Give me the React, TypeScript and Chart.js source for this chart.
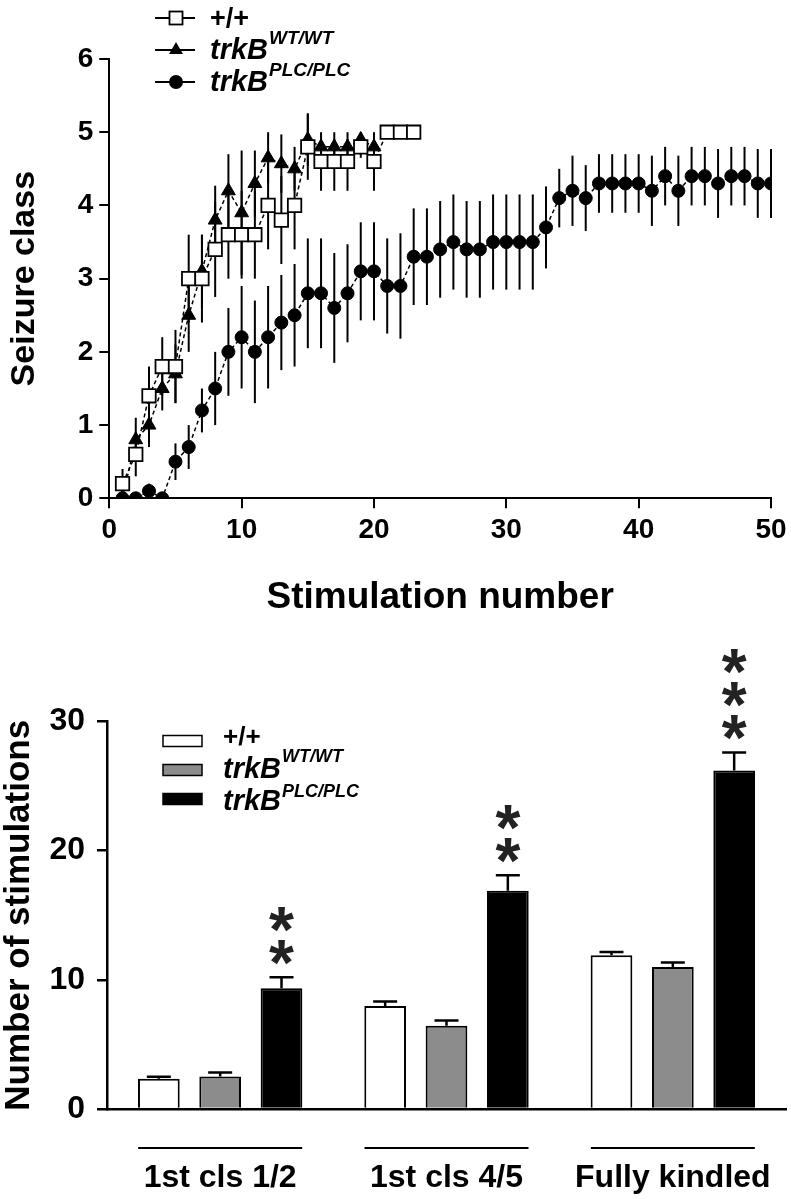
import React, { useEffect, useRef } from 'react';
import { Chart, registerables } from 'chart.js';

Chart.register(...registerables);

// ---------- Top panel data (seizure class vs stimulation number) ----------
const stimulation = [
  1, 2, 3, 4, 5, 6, 7, 8, 9, 10, 11, 12, 13, 14, 15, 16, 17, 18, 19, 20, 21, 22, 23, 24, 25,
  26, 27, 28, 29, 30, 31, 32, 33, 34, 35, 36, 37, 38, 39, 40, 41, 42, 43, 44, 45, 46, 47, 48, 49, 50,
];
const wildTypeMean = [
  0.2, 0.6, 1.4, 1.8, 1.8, 3.0, 3.0, 3.4, 3.6, 3.6, 3.6, 4.0, 3.8, 4.0, 4.8, 4.6, 4.6, 4.6, 4.8, 4.6, 5.0, 5.0, 5.0,
];
const wildTypeSem = [
  0.2, 0.3, 0.4, 0.4, 0.5, 0.6, 0.6, 0.65, 0.6, 0.6, 0.6, 0.6, 0.6, 0.6, 0.45, 0.4, 0.4, 0.4, 0.15, 0.4, 0, 0, 0,
];
const trkBWTMean = [
  0.0, 0.8, 1.0, 1.5, 1.7, 2.5, 3.1, 3.8, 4.2, 3.9, 4.3, 4.65, 4.57, 4.5, 4.9, 4.8, 4.8, 4.8, 4.9, 4.8,
];
const trkBWTSem = [
  0, 0.3, 0.3, 0.3, 0.4, 0.5, 0.5, 0.47, 0.5, 0.85, 0.45, 0.35, 0.4, 0.3, 0.36, 0.1, 0.1, 0.1, 0.1, 0.1,
];
const trkBPLCMean = [
  0, 0, 0.1, 0, 0.5, 0.7, 1.2, 1.5, 2.0, 2.2, 2.0, 2.2, 2.4, 2.5, 2.8, 2.8, 2.6, 2.8, 3.1, 3.1, 2.9, 2.9, 3.3, 3.3, 3.4,
  3.5, 3.4, 3.4, 3.5, 3.5, 3.5, 3.5, 3.7, 4.1, 4.2, 4.1, 4.3, 4.3, 4.3, 4.3, 4.2, 4.4, 4.2, 4.4, 4.4, 4.3, 4.4, 4.4, 4.3, 4.3,
];
const trkBPLCSem = [
  0, 0, 0.1, 0, 0.25, 0.3, 0.3, 0.5, 0.6, 0.7, 0.7, 0.7, 0.65, 0.7, 0.75, 0.75, 0.75, 0.67, 0.67, 0.67, 0.65, 0.72, 0.66, 0.66, 0.66,
  0.65, 0.66, 0.66, 0.65, 0.65, 0.65, 0.65, 0.56, 0.4, 0.48, 0.45, 0.4, 0.4, 0.4, 0.4, 0.48, 0.4, 0.48, 0.4, 0.4, 0.47, 0.4, 0.4, 0.47, 0.47,
];
const topXTicks = [0, 10, 20, 30, 40, 50];
const topYTicks = [0, 1, 2, 3, 4, 5, 6];

// ---------- Bottom panel data (number of stimulations) ----------
const barCategories = ['1st cls 1/2', '1st cls 4/5', 'Fully kindled'];
const barWildType = [2.35, 7.97, 11.9];
const barWildTypeSem = [0.15, 0.35, 0.25];
const barTrkBWT = [2.52, 6.45, 11.0];
const barTrkBWTSem = [0.3, 0.4, 0.35];
const barTrkBPLC = [9.35, 16.9, 26.2];
const barTrkBPLCSem = [0.85, 1.2, 1.4];
const significanceStars = [2, 2, 3];
const barYTicks = [0, 10, 20, 30];

const FONT = '"Liberation Sans", Arial, Helvetica, sans-serif';

function drawGenotype(
  ctx: CanvasRenderingContext2D,
  x: number,
  baseline: number,
  main: string,
  sup: string,
  mainSize: number,
  supSize: number,
  rise: number,
) {
  ctx.font = `italic bold ${mainSize}px ${FONT}`;
  ctx.textAlign = 'left';
  ctx.textBaseline = 'alphabetic';
  ctx.fillText(main, x, baseline);
  const w = ctx.measureText(main).width;
  if (sup) {
    ctx.font = `italic bold ${supSize}px ${FONT}`;
    ctx.fillText(sup, x + w + 1, baseline - rise);
  }
}

function noScalePadding(s: any) {
  s.paddingLeft = 0;
  s.paddingRight = 0;
  s.paddingTop = 0;
  s.paddingBottom = 0;
}

const lineErrorBars = {
  id: 'lineErrorBars',
  beforeDatasetsDraw(chart: any) {
    const { ctx, scales } = chart;
    const x = scales.x;
    const y = scales.y;
    ctx.save();
    ctx.strokeStyle = '#000';
    ctx.lineWidth = 2;
    chart.data.datasets.forEach((ds: any) => {
      const errs: number[] = ds.errors;
      if (!errs) return;
      ds.data.forEach((p: any, i: number) => {
        const e = errs[i];
        if (!e) return;
        const px = x.getPixelForValue(p.x);
        ctx.beginPath();
        ctx.moveTo(px, y.getPixelForValue(Math.max(0, p.y - e)));
        ctx.lineTo(px, y.getPixelForValue(p.y + e));
        ctx.stroke();
      });
    });
    ctx.restore();
  },
};

const topLegend = {
  id: 'topLegend',
  afterDraw(chart: any) {
    const ctx: CanvasRenderingContext2D = chart.ctx;
    ctx.save();
    ctx.fillStyle = '#000';
    ctx.strokeStyle = '#000';
    const rows = [18, 50, 82];
    const cx = 176;
    rows.forEach((ry) => {
      ctx.lineWidth = 2;
      ctx.beginPath();
      ctx.moveTo(155, ry);
      ctx.lineTo(195, ry);
      ctx.stroke();
    });
    // square
    ctx.fillStyle = '#fff';
    ctx.lineWidth = 1.8;
    ctx.fillRect(cx - 6.5, rows[0] - 6.5, 13, 13);
    ctx.strokeRect(cx - 6.5, rows[0] - 6.5, 13, 13);
    ctx.fillStyle = '#000';
    // triangle
    const r = 8;
    ctx.beginPath();
    ctx.moveTo(cx, rows[1] - r);
    ctx.lineTo(cx + r * Math.sin((2 * Math.PI) / 3), rows[1] + r / 2);
    ctx.lineTo(cx - r * Math.sin((2 * Math.PI) / 3), rows[1] + r / 2);
    ctx.closePath();
    ctx.fill();
    // circle
    ctx.beginPath();
    ctx.arc(cx, rows[2], 7, 0, Math.PI * 2);
    ctx.fill();

    ctx.font = `bold 27px ${FONT}`;
    ctx.textAlign = 'left';
    ctx.textBaseline = 'alphabetic';
    ctx.fillText('+/+', 210, rows[0] + 9);
    drawGenotype(ctx, 210, rows[1] + 9, 'trkB', 'WT/WT', 29, 19, 15);
    drawGenotype(ctx, 210, rows[2] + 9, 'trkB', 'PLC/PLC', 29, 19, 15);
    ctx.restore();
  },
};

const barDecorations = {
  id: 'barDecorations',
  afterDatasetsDraw(chart: any) {
    const { ctx, scales } = chart;
    const x = scales.x;
    const y = scales.y;
    ctx.save();
    ctx.strokeStyle = '#000';
    ctx.fillStyle = '#222';
    chart.data.datasets.forEach((ds: any, di: number) => {
      const meta = chart.getDatasetMeta(di);
      meta.data.forEach((bar: any, i: number) => {
        const v = ds.data[i];
        const e = ds.errors[i];
        const top = y.getPixelForValue(v);
        const cap = y.getPixelForValue(v + e);
        ctx.lineWidth = 2.5;
        ctx.beginPath();
        ctx.moveTo(bar.x, top);
        ctx.lineTo(bar.x, cap);
        ctx.moveTo(bar.x - 12, cap);
        ctx.lineTo(bar.x + 12, cap);
        ctx.stroke();
        if (ds.stars) {
          ctx.font = `bold 64px ${FONT}`;
          ctx.textAlign = 'center';
          ctx.textBaseline = 'alphabetic';
          const m = ctx.measureText('*');
          const mid = (m.actualBoundingBoxAscent - m.actualBoundingBoxDescent) / 2;
          for (let k = 0; k < ds.stars[i]; k++) {
            const cy = cap - 25 - k * 33;
            ctx.fillText('*', bar.x, cy + mid);
          }
        }
      });
    });
    // group underlines
    ctx.lineWidth = 2;
    ctx.strokeStyle = '#000';
    barCategories.forEach((_, i) => {
      const cx = x.getPixelForValue(i);
      ctx.beginPath();
      ctx.moveTo(cx - 82, 508);
      ctx.lineTo(cx + 82, 508);
      ctx.stroke();
    });
    ctx.restore();
  },
  afterDraw(chart: any) {
    const ctx: CanvasRenderingContext2D = chart.ctx;
    ctx.save();
    const rows = [101, 130, 159];
    const fills = ['#ffffff', '#8c8c8c', '#000000'];
    rows.forEach((ry, i) => {
      ctx.fillStyle = fills[i];
      ctx.fillRect(163, ry - 5.5, 39, 11);
      ctx.strokeStyle = '#000';
      ctx.lineWidth = 1.5;
      ctx.strokeRect(163, ry - 5.5, 39, 11);
    });
    ctx.fillStyle = '#000';
    ctx.font = `bold 26px ${FONT}`;
    ctx.textAlign = 'left';
    ctx.textBaseline = 'alphabetic';
    ctx.fillText('+/+', 223, 105);
    drawGenotype(ctx, 223, 137.5, 'trkB', 'WT/WT', 29, 18, 16);
    drawGenotype(ctx, 223, 169.5, 'trkB', 'PLC/PLC', 29, 18, 13);
    ctx.restore();
  },
};

function TopChart() {
  const ref = useRef<HTMLCanvasElement>(null);
  useEffect(() => {
    if (!ref.current) return;
    const tickFont = { family: FONT, size: 28, weight: 'bold' as const, lineHeight: 1 };
    const chart = new Chart(ref.current, {
      type: 'line',
      data: {
        datasets: [
          {
            label: 'trkB PLC/PLC',
            data: trkBPLCMean.map((v, i) => ({ x: stimulation[i], y: v })),
            errors: trkBPLCSem,
            order: 0,
            borderColor: '#000',
            borderWidth: 1.5,
            borderDash: [4, 3],
            pointStyle: 'circle',
            pointRadius: 6.5,
            pointBackgroundColor: '#000',
            pointBorderColor: '#000',
            pointBorderWidth: 1,
            tension: 0,
          } as any,
          {
            label: '+/+',
            data: wildTypeMean.map((v, i) => ({ x: stimulation[i], y: v })),
            errors: wildTypeSem,
            order: 1,
            borderColor: '#000',
            borderWidth: 1.5,
            borderDash: [4, 3],
            pointStyle: 'rect',
            pointRadius: 9.5,
            pointBackgroundColor: '#fff',
            pointBorderColor: '#000',
            pointBorderWidth: 1.8,
            tension: 0,
          } as any,
          {
            label: 'trkB WT/WT',
            data: trkBWTMean.map((v, i) => ({ x: stimulation[i], y: v })),
            errors: trkBWTSem,
            order: 2,
            borderColor: '#000',
            borderWidth: 1.5,
            borderDash: [4, 3],
            pointStyle: 'triangle',
            pointRadius: 8,
            pointBackgroundColor: '#000',
            pointBorderColor: '#000',
            pointBorderWidth: 1,
            tension: 0,
          } as any,
        ],
      },
      options: {
        responsive: false,
        animation: false,
        events: [],
        layout: { padding: { top: 59, right: 20, left: 0, bottom: 0 } },
        plugins: { legend: { display: false }, tooltip: { enabled: false } },
        scales: {
          x: {
            type: 'linear',
            min: 0,
            max: 50,
            afterBuildTicks: (s: any) => {
              s.ticks = topXTicks.map((v) => ({ value: v }));
            },
            afterFit: (s: any) => {
              s.height = 141.7;
              noScalePadding(s);
            },
            ticks: { font: tickFont, color: '#000', padding: 8, maxRotation: 0 },
            grid: { drawOnChartArea: false, drawTicks: true, tickLength: 10, color: '#000', lineWidth: 2 },
            border: { display: true, color: '#000', width: 2 },
            title: {
              display: true,
              text: 'Stimulation number',
              color: '#000',
              font: { family: FONT, size: 37, weight: 'bold', lineHeight: 1 },
              padding: { top: 0, bottom: 24 },
            },
          },
          y: {
            type: 'linear',
            min: 0,
            max: 6,
            afterBuildTicks: (s: any) => {
              s.ticks = topYTicks.map((v) => ({ value: v }));
            },
            afterFit: (s: any) => {
              s.width = 109.3;
              noScalePadding(s);
            },
            ticks: { font: tickFont, color: '#000', padding: 6 },
            grid: { drawOnChartArea: false, drawTicks: true, tickLength: 10, color: '#000', lineWidth: 2 },
            border: { display: true, color: '#000', width: 2 },
            title: {
              display: true,
              text: 'Seizure class',
              color: '#000',
              font: { family: FONT, size: 34, weight: 'bold', lineHeight: 1 },
              padding: { top: 8, bottom: 0 },
            },
          },
        },
      },
      plugins: [lineErrorBars, topLegend],
    } as any);
    return () => chart.destroy();
  }, []);
  return (
    <canvas
      ref={ref}
      width={791}
      height={640}
      style={{ position: 'absolute', left: 0, top: 0, width: 791, height: 640, display: 'block' }}
    />
  );
}

function BottomChart() {
  const ref = useRef<HTMLCanvasElement>(null);
  useEffect(() => {
    if (!ref.current) return;
    const chart = new Chart(ref.current, {
      type: 'bar',
      data: {
        labels: barCategories,
        datasets: [
          {
            label: '+/+',
            data: barWildType,
            errors: barWildTypeSem,
            backgroundColor: '#ffffff',
            borderColor: '#000',
            borderWidth: 2,
          } as any,
          {
            label: 'trkB WT/WT',
            data: barTrkBWT,
            errors: barTrkBWTSem,
            backgroundColor: '#8c8c8c',
            borderColor: '#000',
            borderWidth: 2,
          } as any,
          {
            label: 'trkB PLC/PLC',
            data: barTrkBPLC,
            errors: barTrkBPLCSem,
            stars: significanceStars,
            backgroundColor: '#000000',
            borderColor: '#000',
            borderWidth: 2,
          } as any,
        ],
      },
      options: {
        responsive: false,
        animation: false,
        events: [],
        layout: { padding: { top: 81.5, right: 5, left: 0, bottom: 0 } },
        datasets: { bar: { categoryPercentage: 0.813, barPercentage: 0.68 } },
        plugins: { legend: { display: false }, tooltip: { enabled: false } },
        scales: {
          x: {
            afterFit: (s: any) => {
              s.height = 90;
              noScalePadding(s);
            },
            grid: { display: false, drawTicks: false },
            border: { display: true, color: '#000', width: 2.5 },
            ticks: {
              font: { family: FONT, size: 32, weight: 'bold', lineHeight: 1 },
              color: '#000',
              padding: 53,
              maxRotation: 0,
              autoSkip: false,
            },
          },
          y: {
            min: 0,
            max: 30,
            afterBuildTicks: (s: any) => {
              s.ticks = barYTicks.map((v) => ({ value: v }));
            },
            afterFit: (s: any) => {
              s.width = 107;
              noScalePadding(s);
            },
            ticks: {
              font: { family: FONT, size: 32, weight: 'bold', lineHeight: 1 },
              color: '#000',
              padding: 12,
            },
            grid: { drawOnChartArea: false, drawTicks: true, tickLength: 10, color: '#000', lineWidth: 2.5 },
            border: { display: true, color: '#000', width: 2.5 },
            title: {
              display: true,
              text: 'Number of stimulations',
              color: '#000',
              font: { family: FONT, size: 35, weight: 'bold', lineHeight: 1 },
              padding: { top: 2, bottom: 0 },
            },
          },
        },
      },
      plugins: [barDecorations],
    } as any);
    return () => chart.destroy();
  }, []);
  return (
    <canvas
      ref={ref}
      width={791}
      height={559}
      style={{ position: 'absolute', left: 0, top: 640, width: 791, height: 559, display: 'block' }}
    />
  );
}

export default function App() {
  return (
    <div style={{ position: 'absolute', left: 0, top: 0, width: 791, height: 1199, background: '#fff', overflow: 'hidden' }}>
      <TopChart />
      <BottomChart />
    </div>
  );
}
